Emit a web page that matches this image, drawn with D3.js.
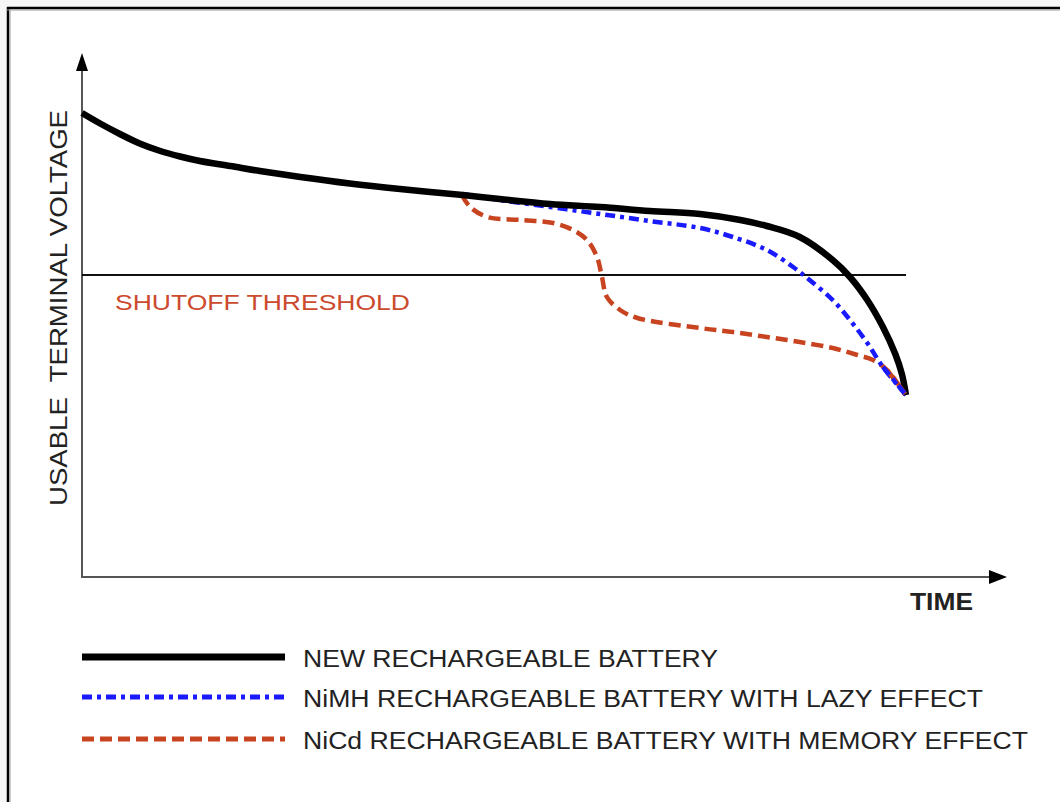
<!DOCTYPE html>
<html><head><meta charset="utf-8">
<script src="https://cdn.jsdelivr.net/npm/d3@7"></script>
<style>
html,body{margin:0;padding:0;background:#f6f6f6;}
svg{display:block;}
text{font-family:"Liberation Sans",Arial,sans-serif;}
</style></head>
<body>
<script>
// Time (0-100) and usable terminal voltage (arbitrary units 0-100)
const newTime = [0, 2.2, 4.6, 7.0, 9.5, 11.9, 14.3, 18.0, 21.6, 26.5, 32.5, 38.6, 46.2, 50.7, 56.8, 62.9, 68.9, 75, 79.9, 83.1, 87.1, 91.1, 93.2, 95.3, 97.2, 98.7, 99.5, 100];
const newVolt = [92.8, 90.7, 88.6, 86.7, 85.2, 84.1, 83.2, 82.2, 81.2, 80, 78.7, 77.6, 76.4, 75.6, 74.6, 74, 73.2, 72.6, 71.4, 70.2, 68, 63.4, 60, 55.4, 50, 44.6, 40.6, 36.4];
const nimhTime = [46.2, 50.7, 56.8, 62.9, 68.9, 75, 79, 83.1, 86.3, 88.3, 91.1, 93.2, 95.3, 97.2, 100];
const nimhVolt = [76.6, 75.4, 74, 72.6, 71.2, 69.8, 68, 65.4, 62, 59.4, 55.4, 51.4, 46.8, 42, 36.4];
const nicdTime = [46.1, 47.1, 49.2, 53.2, 57.2, 59.6, 61.3, 62.5, 63.1, 63.7, 65.3, 67.4, 75, 79, 83.1, 87.1, 91.1, 94.1, 96, 97.7, 99.3, 100];
const nicdVolt = [76.4, 74, 72, 71.4, 70.8, 69.4, 67.4, 64, 60, 56, 53.4, 51.8, 49.8, 49, 48, 47, 45.8, 44.4, 43.4, 41.4, 38, 36.4];
const threshold = 60.4;
const seriesNames = ["NEW RECHARGEABLE BATTERY", "NiMH RECHARGEABLE BATTERY WITH LAZY EFFECT", "NiCd RECHARGEABLE BATTERY WITH MEMORY EFFECT"];
const yLabel = "USABLE\u00A0 TERMINAL VOLTAGE";
const xLabel = "TIME";
const thresholdLabel = "SHUTOFF THRESHOLD";

const W = 1060, H = 802;
const svg = d3.select("body").append("svg").attr("width", W).attr("height", H);

// panel with black border top/left
svg.append("rect").attr("x", 8).attr("y", 8).attr("width", W).attr("height", H).attr("fill", "#fff");
svg.append("line").attr("x1", 7).attr("x2", W).attr("y1", 8).attr("y2", 8).attr("stroke", "#000").attr("stroke-width", 2.5);
svg.append("line").attr("x1", 8).attr("x2", 8).attr("y1", 7).attr("y2", H).attr("stroke", "#000").attr("stroke-width", 2.5);
svg.append("line").attr("x1", 7).attr("x2", W).attr("y1", 10).attr("y2", 10).attr("stroke", "#999").attr("stroke-width", 1);
svg.append("line").attr("x1", 10).attr("x2", 10).attr("y1", 10).attr("y2", H).attr("stroke", "#999").attr("stroke-width", 1);

const x = d3.scaleLinear().domain([0, 100]).range([82, 906]);
const y = d3.scaleLinear().domain([0, 100]).range([577, 77]);

// axes
const axisColor = "#555";
svg.append("line").attr("x1", 82).attr("x2", 82).attr("y1", y(0)).attr("y2", 66).attr("stroke", axisColor).attr("stroke-width", 2);
svg.append("path").attr("d", "M82,53 L76,71 L88,71 Z").attr("fill", "#000");
svg.append("line").attr("x1", 81).attr("x2", 994).attr("y1", y(0)).attr("y2", y(0)).attr("stroke", axisColor).attr("stroke-width", 2);
svg.append("path").attr("d", `M1007,${y(0)} L989,${y(0)-7} L989,${y(0)+7} Z`).attr("fill", "#000");

// threshold
svg.append("line").attr("x1", x(0)).attr("x2", x(100)).attr("y1", y(threshold)).attr("y2", y(threshold))
  .attr("stroke", "#111").attr("stroke-width", 2);
svg.append("text").attr("x", 115).attr("y", 310).attr("fill", "#cc4a2e").attr("font-size", 22)
  .attr("textLength", 295).attr("lengthAdjust", "spacingAndGlyphs").text(thresholdLabel);

// labels
svg.append("text").attr("transform", "translate(67,308) rotate(-90)").attr("text-anchor", "middle")
  .attr("font-size", 23).attr("fill", "#222").attr("textLength", 396).attr("lengthAdjust", "spacingAndGlyphs").text(yLabel);
svg.append("text").attr("x", 910).attr("y", 610).attr("font-size", 23).attr("font-weight", "bold").attr("fill", "#222")
  .attr("textLength", 63).attr("lengthAdjust", "spacingAndGlyphs").text(xLabel);

const line = d3.line().x(d => x(d[0])).y(d => y(d[1])).curve(d3.curveCatmullRom.alpha(0.5));
const styles = [
  {color: "#000", width: 6.5, dash: null},
  {color: "#1a1aff", width: 4.5, dash: "10,5,4,5"},
  {color: "#c8431f", width: 4.5, dash: "12,6"}
];
const data = [d3.zip(newTime, newVolt), d3.zip(nimhTime, nimhVolt), d3.zip(nicdTime, nicdVolt)];

// draw red, blue, then black
[2, 1, 0].forEach(i => {
  svg.append("path").datum(data[i]).attr("d", line).attr("fill", "none")
    .attr("stroke", styles[i].color).attr("stroke-width", styles[i].width)
    .attr("stroke-dasharray", styles[i].dash).attr("stroke-linecap", "butt");
});
// reference shows the dashed lines on top of the black one near the end point
[2, 1].forEach(i => {
  const seg = data[i].filter(d => d[0] >= 97);
  svg.append("path").datum(seg).attr("d", line).attr("fill", "none")
    .attr("stroke", styles[i].color).attr("stroke-width", styles[i].width)
    .attr("stroke-dasharray", styles[i].dash);
});

// legend
const legY = [657, 697, 739];
const legLen = [415, 680, 725];
seriesNames.forEach((n, i) => {
  svg.append("line").attr("x1", 82).attr("x2", 285).attr("y1", legY[i]).attr("y2", legY[i])
    .attr("stroke", styles[i].color).attr("stroke-width", i === 0 ? 7 : 5).attr("stroke-dasharray", styles[i].dash);
  svg.append("text").attr("x", 303).attr("y", legY[i] + 10).attr("font-size", 23).attr("fill", "#222")
    .attr("textLength", legLen[i]).attr("lengthAdjust", "spacingAndGlyphs").text(n);
});
</script>
</body></html>
